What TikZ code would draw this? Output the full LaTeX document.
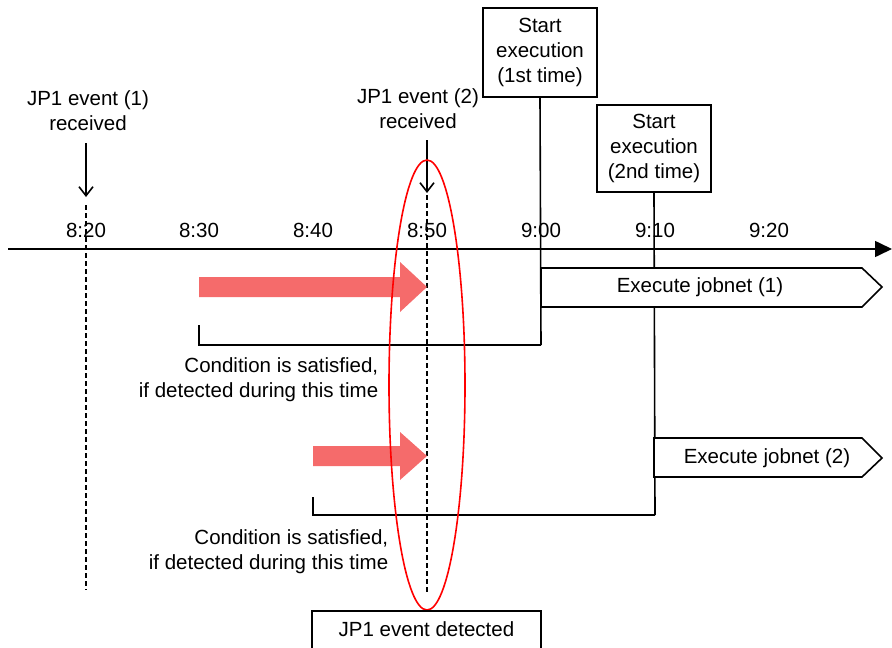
\documentclass[tikz,border=0pt]{standalone}
\usepackage{fontspec}
\setmainfont{Liberation Sans}
\usetikzlibrary{arrows.meta}
\definecolor{arrowred}{RGB}{245,107,107}
\begin{document}
\begin{tikzpicture}[x=1pt,y=-1pt, line width=1.6pt,
  txt/.style={font=\fontsize{20.5}{25}\selectfont, inner sep=0pt, align=center},
  rtxt/.style={font=\fontsize{20.5}{25}\selectfont, inner sep=0pt, align=right},
  boxstyle/.style={draw, line width=1.6pt, inner sep=0pt, minimum width=114pt, font=\fontsize{20.5}{25}\selectfont, align=center},
  dashln/.style={dash pattern=on 5pt off 3pt, line width=1.6pt},
  bigarrow/.style={fill=arrowred, draw=none},
  pent/.style={draw, fill=white, line width=1.6pt}
]
\useasboundingbox (0,0) rectangle (892,648);

% axis
\coordinate (axL) at (8,249);
\coordinate (axR) at (892,249);
\draw[-{Triangle[length=17pt,width=16pt]}] (axL) -- (axR);

% time labels
\foreach \x/\t [count=\i] in {86/8:20,199/8:30,313/8:40,427/8:50,541/9:00,655/9:10,769/9:20}
  \node[txt] (t\i) at (\x,230) {\t};

% dashed lines
\coordinate (d1a) at (86,205); \coordinate (d1b) at (86,590);
\coordinate (d2a) at (427,195); \coordinate (d2b) at (427,592);
\draw[dashln] (d1a) -- (d1b);
\draw[dashln] (d2a) -- (d2b);

% event labels
\node[txt] (ev1) at (88,111) {JP1 event (1)\\received};
\node[txt] (ev2) at (418,109) {JP1 event (2)\\received};
\coordinate (a1a) at (86,143); \coordinate (a1b) at (86,197);
\coordinate (a2a) at (427,140); \coordinate (a2b) at (427,193);
\draw[-{Straight Barb[length=9pt,width=14pt]}] (a1a) -- (a1b);
\draw[-{Straight Barb[length=9pt,width=14pt]}] (a2a) -- (a2b);

% start boxes
\node[boxstyle, minimum height=89pt] (s1) at (540,52.5) {Start\\execution\\(1st time)};
\node[boxstyle, minimum height=87pt] (s2) at (654,148.5) {Start\\execution\\(2nd time)};

% bracket 1 and line from box 1
\coordinate (b1a) at (199,325); \coordinate (b1b) at (199,345); \coordinate (b1c) at (541,345);
\draw (s1.south) -- (b1c);
\draw (b1a) -- (b1b) -- (b1c);
% bracket 2 and line from box 2
\coordinate (b2a) at (313,497); \coordinate (b2b) at (313,515); \coordinate (b2c) at (655,515);
\draw (s2.south) -- (b2c);
\draw (b2a) -- (b2b) -- (b2c);

% jobnet pentagons
\draw[pent] (541,268) -- (862,268) -- (882,287) -- (862,307) -- (541,307) -- cycle;
\node[txt] (j1) at (700,287) {Execute jobnet (1)};
\draw[pent] (654,438) -- (862,438) -- (882,458) -- (862,477) -- (654,477) -- cycle;
\node[txt] (j2) at (767,458) {Execute jobnet (2)};

% red arrows
\fill[bigarrow] (199,277) -- (400,277) -- (400,262) -- (427,287) -- (400,312) -- (400,297) -- (199,297) -- cycle;
\fill[bigarrow] (313,446) -- (400,446) -- (400,432) -- (427,456) -- (400,480) -- (400,466) -- (313,466) -- cycle;

% condition texts
\node[rtxt, anchor=east] (c1) at (379,380) {Condition is satisfied,\\if detected during this time};
\node[rtxt, anchor=east] (c2) at (389,552) {Condition is satisfied,\\if detected during this time};

% red ellipse
\draw[red, line width=1.6pt] (427,385) ellipse [x radius=38, y radius=225];

% detected box
\node[draw, line width=1.6pt, minimum width=229pt, minimum height=44pt, inner sep=0pt] (det) at (426.5,633) {};
\node[txt] (dett) at (426.5,629) {JP1 event detected};
\end{tikzpicture}
\end{document}
